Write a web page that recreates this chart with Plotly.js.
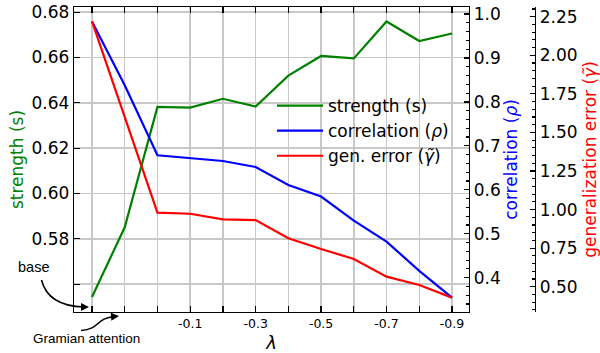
<!DOCTYPE html>
<html>
<head>
<meta charset="utf-8">
<script src="https://cdn.plot.ly/plotly-3.0.1.min.js"></script>
<style>html,body{margin:0;padding:0;background:#fff;}#chart{width:600px;height:353px;}</style>
</head>
<body>
<div id="chart"></div>
<script>
// ---- data ----
const categories = ["base", "Gramian attention", "0.0", "-0.1", "-0.2", "-0.3", "-0.4", "-0.5", "-0.6", "-0.7", "-0.8", "-0.9"];
const xTickText = ["", "", "", "-0.1", "", "-0.3", "", "-0.5", "", "-0.7", "", "-0.9"];
const strength = [0.5543, 0.5851, 0.6382, 0.6379, 0.6418, 0.6384, 0.6520, 0.6607, 0.6596, 0.6759, 0.6673, 0.6706];
const correlation = [0.983, 0.838, 0.6785, 0.6724, 0.6656, 0.652, 0.611, 0.5846, 0.530, 0.482, 0.4155, 0.3545];
const genError = [2.22, 1.602, 0.980, 0.973, 0.937, 0.932, 0.814, 0.744, 0.680, 0.565, 0.511, 0.429];
const strengthTicks = [0.56, 0.58, 0.60, 0.62, 0.64, 0.66, 0.68];
const strengthTickText = ["", "0.58", "0.60", "0.62", "0.64", "0.66", "0.68"];

// ---- layout helpers ----
const W = 600, H = 353;
const M = {l: 74, r: 65, t: 7, b: 41};
const PW = W - M.l - M.r, PH = H - M.t - M.b;
const px = v => (v - M.l) / PW;
const py = v => (H - M.b - v) / PH;
const FONT = "DejaVu Sans, sans-serif";
const xIdx = categories.map((_, i) => i);

const traces = [
  {x: xIdx, y: strength, name: "strength (s)", type: "scatter", mode: "lines",
   line: {color: "#008000", width: 2.2}, xaxis: "x", yaxis: "y"},
  {x: xIdx, y: correlation, name: "correlation (<i>ρ</i>)", type: "scatter", mode: "lines",
   line: {color: "#0000ff", width: 2.2}, xaxis: "x", yaxis: "y2"},
  {x: xIdx, y: genError, name: "gen. error (<i>γ̃</i>)", type: "scatter", mode: "lines",
   line: {color: "#ff0000", width: 2.2}, xaxis: "x", yaxis: "y3"}
];

const axisCommon = {
  showline: true, linecolor: "#000", linewidth: 1.3,
  ticks: "inside", ticklen: 6, tickwidth: 1.2, tickcolor: "#000",
  zeroline: false
};

const layout = {
  width: W, height: H,
  margin: M,
  paper_bgcolor: "#fff", plot_bgcolor: "#fff",
  font: {family: FONT, size: 17, color: "#000"},
  showlegend: true,
  legend: {x: px(272), y: py(88), xanchor: "left", yanchor: "top",
           bgcolor: "rgba(0,0,0,0)", borderwidth: 0, itemwidth: 46,
           font: {family: FONT, size: 17, color: "#000"}},
  xaxis: Object.assign({}, axisCommon, {
    domain: [0, (469 - M.l) / PW],
    range: [-0.55, 11.52],
    tickvals: xIdx, ticktext: xTickText,
    tickfont: {family: FONT, size: 12.5},
    mirror: "ticks",
    showgrid: true, gridcolor: "#c8c8c8", gridwidth: 1.5,
    title: {text: "<i>λ</i>", font: {family: FONT, size: 18}, standoff: 10}
  }),
  yaxis: Object.assign({}, axisCommon, {
    range: [0.5477, 0.6823],
    tickvals: strengthTicks, ticktext: strengthTickText,
    tickfont: {family: FONT, size: 17},
    mirror: true,
    showgrid: true, gridcolor: "#c8c8c8", gridwidth: 1.5,
    title: {text: "strength (s)", font: {family: FONT, size: 17, color: "#008000"}, standoff: 3}
  }),
  yaxis2: Object.assign({}, axisCommon, {
    overlaying: "y", side: "right", anchor: "x",
    range: [0.3219, 1.016],
    dtick: 0.1, tickformat: ".1f",
    ticklen: 5,
    minor: {dtick: 0.02, ticks: "inside", ticklen: 3, tickcolor: "#000", showgrid: false},
    tickfont: {family: FONT, size: 17},
    showgrid: false,
    title: {text: "correlation (<i>ρ</i>)", font: {family: FONT, size: 17, color: "#0000ff"}, standoff: 5}
  }),
  yaxis3: Object.assign({}, axisCommon, {
    overlaying: "y", side: "right", anchor: "free", position: 1,
    range: [0.336, 2.313],
    dtick: 0.25, tickformat: ".2f",
    ticklen: 5,
    minor: {dtick: 0.05, ticks: "inside", ticklen: 3, tickcolor: "#000", showgrid: false},
    tickfont: {family: FONT, size: 17},
    showgrid: false,
    title: {text: "generalization error (<i>γ̃</i>)", font: {family: FONT, size: 17, color: "#ff0000"}, standoff: 8}
  }),
  shapes: [
    {type: "path", xref: "paper", yref: "paper",
     path: `M ${px(41.5)},${py(280)} Q ${px(48)},${py(306)} ${px(84)},${py(307)}`,
     line: {color: "#000", width: 1.6}},
    {type: "path", xref: "paper", yref: "paper",
     path: `M ${px(81)},${py(330.5)} C ${px(101)},${py(329)} ${px(95)},${py(318)} ${px(115)},${py(316.5)}`,
     line: {color: "#000", width: 1.6}}
  ],
  annotations: [
    {text: "base", xref: "paper", yref: "paper", x: px(33), y: py(267),
     xanchor: "center", yanchor: "middle", showarrow: false,
     font: {family: "Liberation Sans, Arial, sans-serif", size: 14.5, color: "#000"}},
    {text: "Gramian attention", xref: "paper", yref: "paper", x: px(86), y: py(338.5),
     xanchor: "center", yanchor: "middle", showarrow: false,
     font: {family: "Liberation Sans, Arial, sans-serif", size: 13.5, color: "#000"}},
    {text: "", xref: "paper", yref: "paper", x: px(89), y: py(307),
     showarrow: true, ax: -6, ay: 0, arrowhead: 2, arrowsize: 1, arrowwidth: 1.6, arrowcolor: "#000"},
    {text: "", xref: "paper", yref: "paper", x: px(119), y: py(316),
     showarrow: true, ax: -6, ay: 0.5, arrowhead: 2, arrowsize: 1, arrowwidth: 1.6, arrowcolor: "#000"}
  ]
};

Plotly.newPlot("chart", traces, layout, {displayModeBar: false, staticPlot: true});
</script>
</body>
</html>
